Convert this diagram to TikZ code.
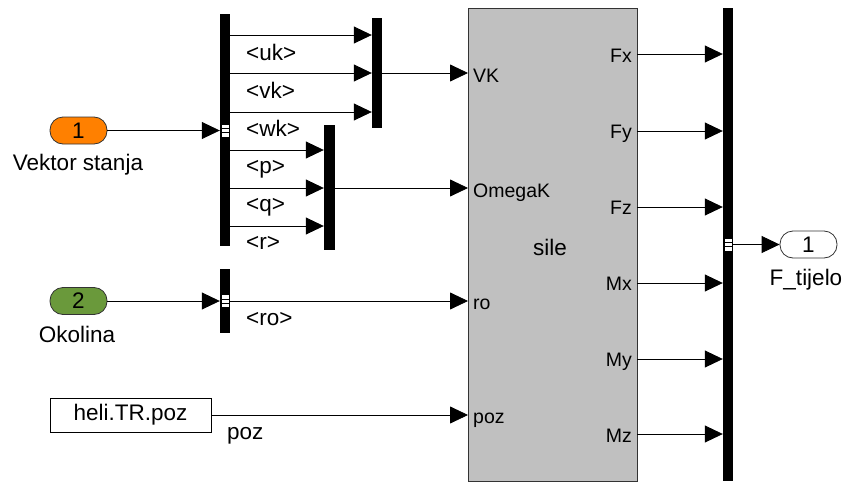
\documentclass[tikz,border=0pt]{standalone}
\usepackage{fontspec}
\setmainfont{Liberation Sans}
\usetikzlibrary{arrows.meta}
\definecolor{portorange}{RGB}{255,128,0}
\definecolor{portgreen}{RGB}{106,153,59}
\definecolor{blockgray}{RGB}{192,192,192}
\begin{document}
\begin{tikzpicture}[x=1pt,y=-1pt,
  sig/.style={draw=black,line width=0.8pt,-{Triangle[length=18pt,width=17pt]}},
  barnode/.style={fill=black,draw=none,inner sep=0pt,minimum width=10pt},
  portnode/.style={draw=black!80,line width=0.8pt,rounded corners=13pt,minimum width=57pt,minimum height=27pt,inner sep=0pt,font=\fontsize{22.5}{25}\selectfont},
  txt/.style={inner sep=0pt,font=\fontsize{22.5}{25}\selectfont},
  ptxt/.style={inner sep=0pt,font=\fontsize{19.5}{22}\selectfont}
]
\useasboundingbox (0,0) rectangle (847,482);

% blocks
\node[portnode,fill=portorange] (in1) at (78.5,130.5) {\raisebox{-4pt}{1}};
\node[portnode,fill=portgreen] (in2) at (78.5,301) {\raisebox{-4pt}{2}};
\node[draw=black,line width=0.8pt,minimum width=161pt,minimum height=34pt,inner sep=0pt,font=\fontsize{22.5}{25}\selectfont] (const) at (130.5,415) {heli.TR.poz};
\node[portnode,fill=white] (out1) at (808.5,244.5) {\raisebox{-4pt}{1}};

\node[barnode,minimum height=232pt] (bs1) at (225,130) {};
\node[barnode,minimum height=110pt] (mux1) at (377,73) {};
\node[barnode,minimum width=11pt,minimum height=125pt] (mux2) at (329.5,187.5) {};
\node[barnode,minimum height=64pt] (bs2) at (225,301) {};
\node[barnode,minimum height=473pt] (bc) at (728,244.5) {};

\node[draw=black!80,line width=0.8pt,fill=blockgray,minimum width=169pt,minimum height=473pt,inner sep=0pt] (sile) at (552.5,244.5) {};

% bus marks
\foreach \bx/\by in {225/130.5, 225/301, 728/244.5}{
  \fill[white] (\bx-3.5,\by-6) rectangle (\bx+3.5,\by+6);
  \draw[black,line width=0.6pt] (\bx-3.5,\by-2) -- (\bx+3.5,\by-2);
  \draw[black,line width=0.6pt] (\bx-3.5,\by+2) -- (\bx+3.5,\by+2);
}

% port coordinates on sile
\coordinate (pVK) at (468,73);
\coordinate (pOm) at (468,188);
\coordinate (pro) at (468,301);
\coordinate (ppoz) at (468,415);
\foreach \n/\yy in {Fx/54,Fy/131,Fz/207,Mx/283,My/359,Mz/434}{
  \coordinate (o\n) at (637,\yy);
}

% labels inside sile
\node[ptxt,anchor=base west] at (473,82) {VK};
\node[ptxt,anchor=base west] at (473,197) {OmegaK};
\node[ptxt,anchor=base west] at (473,309) {ro};
\node[ptxt,anchor=base west] at (473,423) {poz};
\node[ptxt,anchor=base east] at (632,62) {Fx};
\node[ptxt,anchor=base east] at (632,138) {Fy};
\node[ptxt,anchor=base east] at (632,214) {Fz};
\node[ptxt,anchor=base east] at (632,290) {Mx};
\node[ptxt,anchor=base east] at (632,366) {My};
\node[ptxt,anchor=base east] at (632,442) {Mz};
\node[txt,anchor=base] at (550,255) {sile};

% port names
\node[txt,anchor=base] at (78,170) {Vektor stanja};
\node[txt,anchor=base] at (77,342) {Okolina};
\node[txt,anchor=base] at (806,285) {F\_tijelo};

% signals
\draw[sig] (in1.east) -- (bs1.west |- in1.east);
\foreach \yy in {35,73,112}{
  \draw[sig] (bs1.east |- 0,\yy) -- (mux1.west |- 0,\yy);
}
\foreach \yy in {150,188,226}{
  \draw[sig] (bs1.east |- 0,\yy) -- (mux2.west |- 0,\yy);
}
\draw[sig] (mux1.east |- pVK) -- (pVK);
\draw[sig] (mux2.east |- pOm) -- (pOm);
\draw[sig] (in2.east) -- (bs2.west |- in2.east);
\draw[sig] (bs2.east |- pro) -- (pro);
\draw[sig] (const.east) -- (ppoz);
\foreach \n in {Fx,Fy,Fz,Mx,My,Mz}{
  \draw[sig] (o\n) -- (bc.west |- o\n);
}
\draw[sig] (bc.east |- out1.west) -- (out1.west);

% signal labels
\node[txt,anchor=base west] at (246,60) {<uk>};
\node[txt,anchor=base west] at (246,98) {<vk>};
\node[txt,anchor=base west] at (246,136) {<wk>};
\node[txt,anchor=base west] at (246,173) {<p>};
\node[txt,anchor=base west] at (246,211) {<q>};
\node[txt,anchor=base west] at (246,249) {<r>};
\node[txt,anchor=base west] at (246,325) {<ro>};
\node[txt,anchor=base west] at (227,439) {poz};
\end{tikzpicture}
\end{document}
